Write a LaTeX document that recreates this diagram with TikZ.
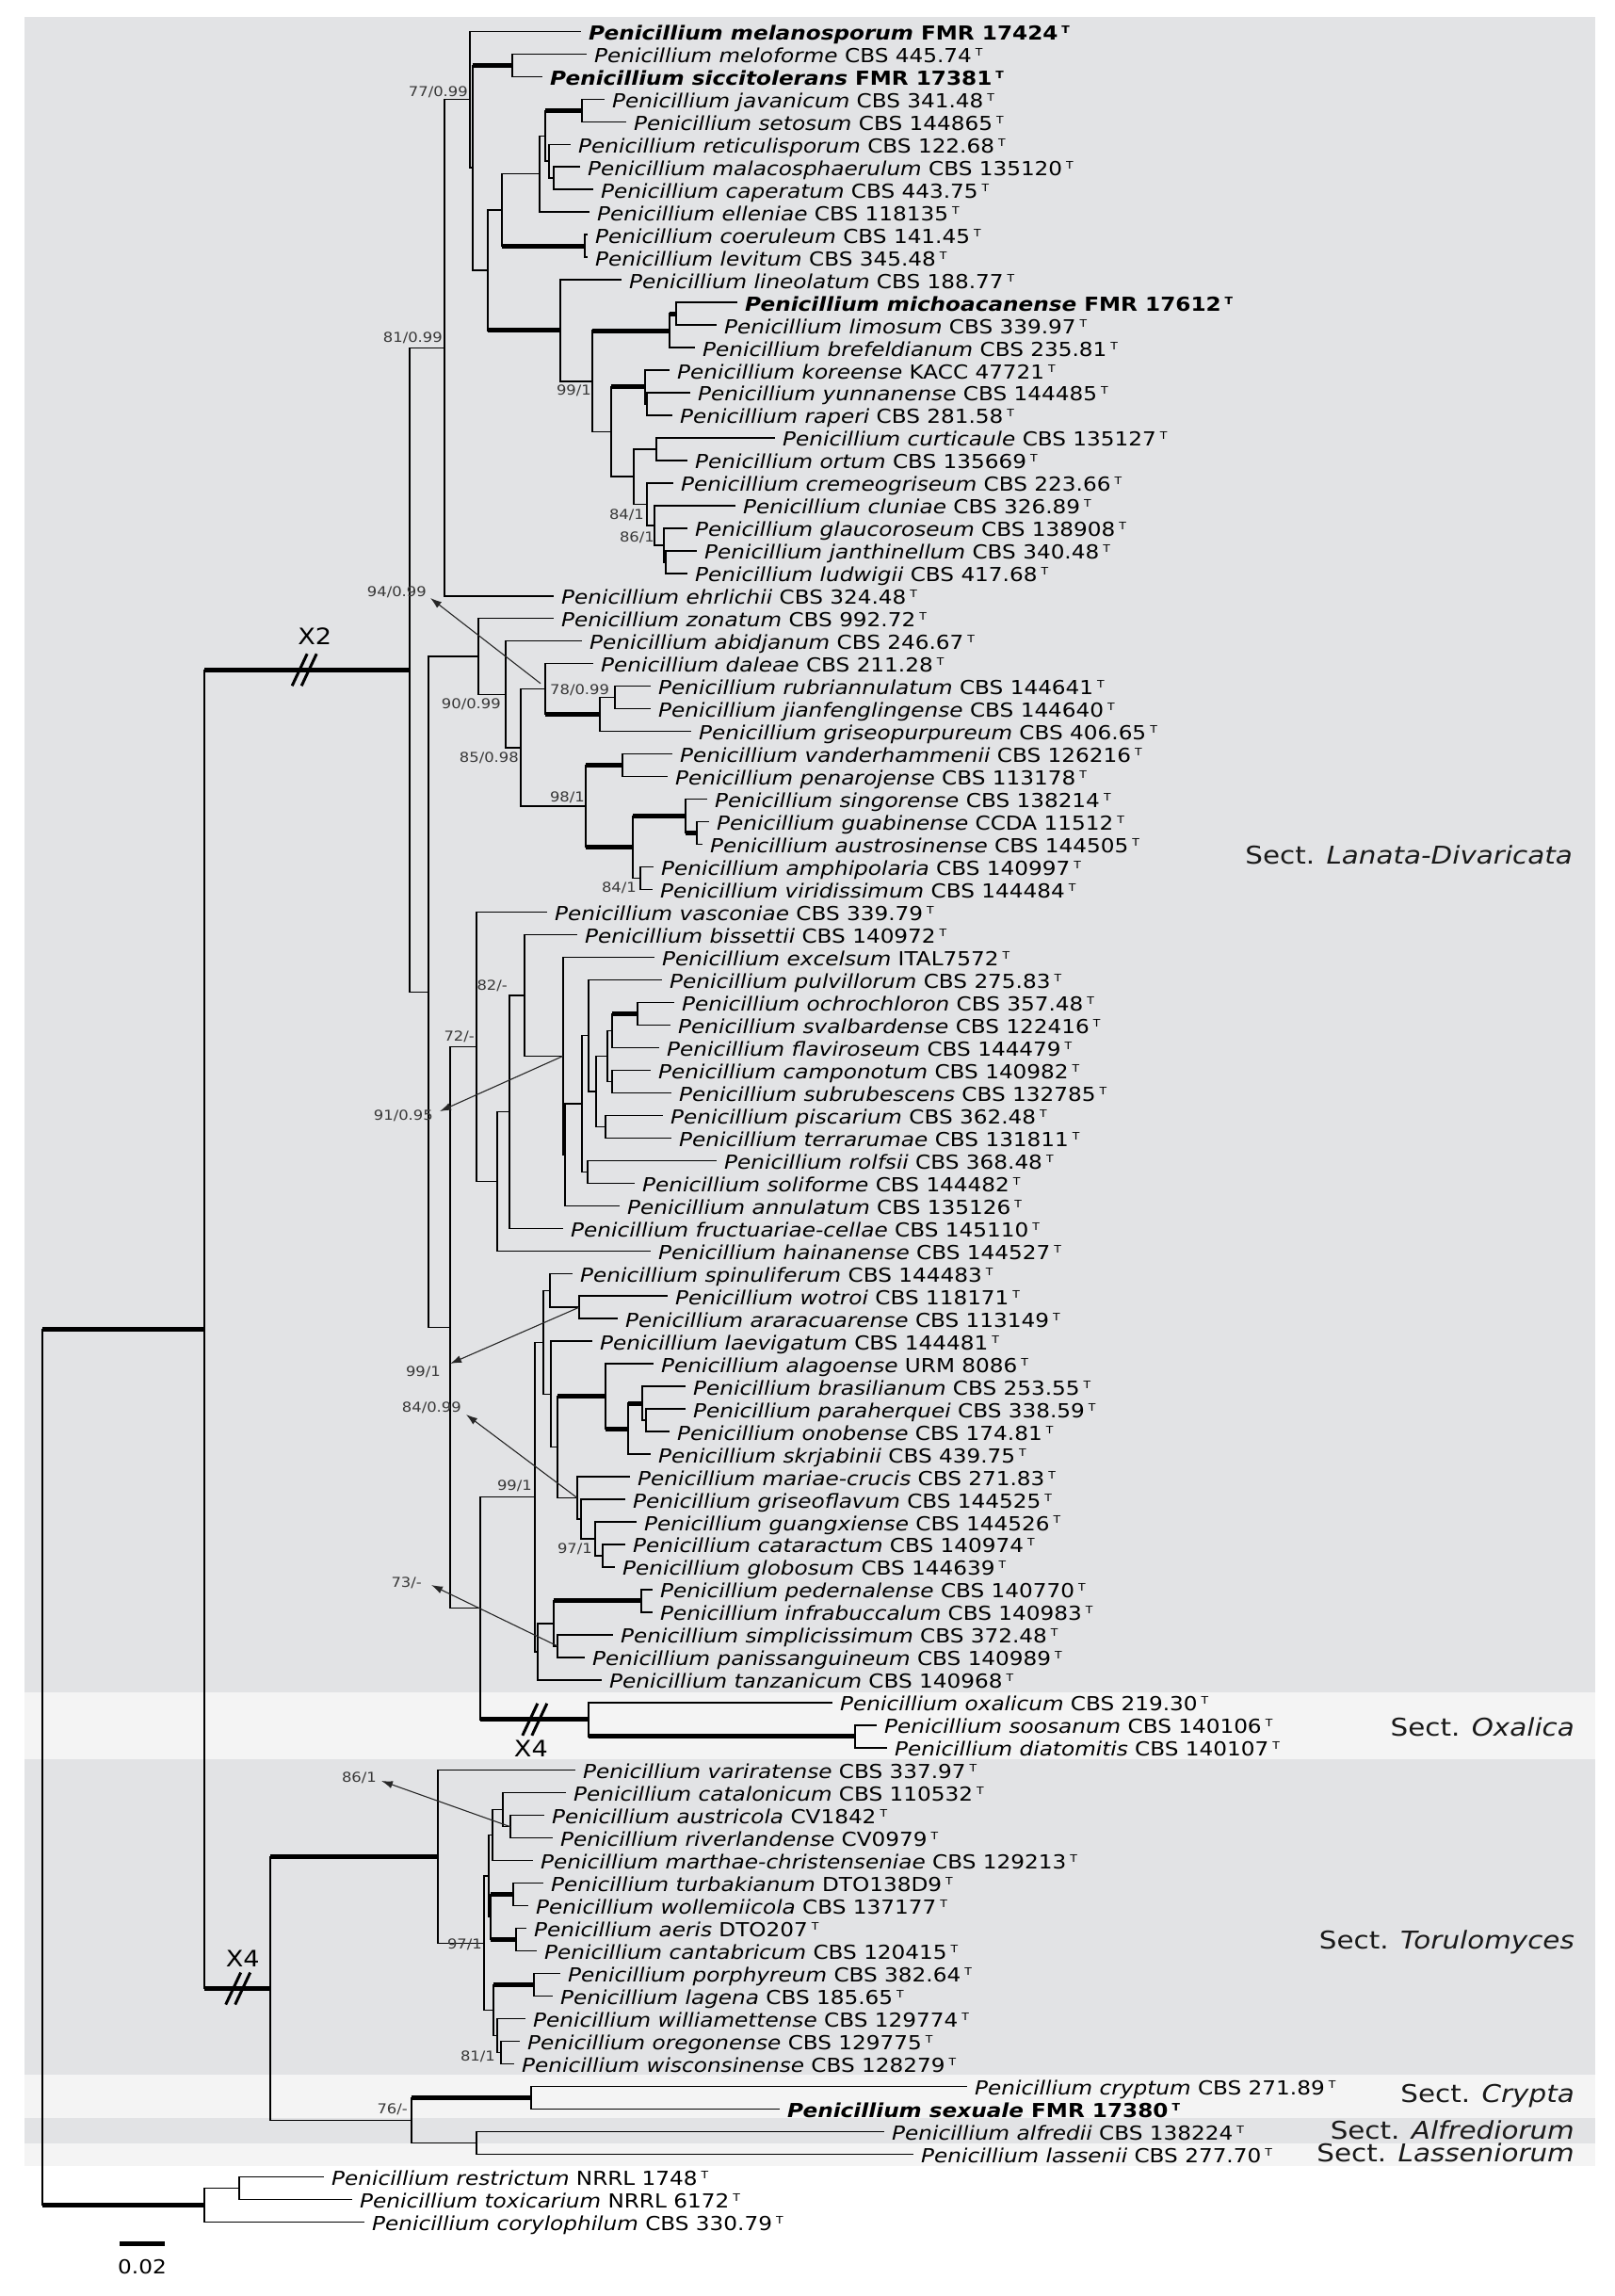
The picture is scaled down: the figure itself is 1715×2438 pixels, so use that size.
\documentclass[tikz,border=0pt]{standalone}
\usepackage{fontspec}
\setmainfont{DejaVu Sans}[FakeStretch=1.13]
\usetikzlibrary{calc,arrows.meta}
\definecolor{bandgray}{RGB}{226,227,229}
\definecolor{bandlight}{RGB}{244,244,244}
\newcommand{\tmark}{\hspace{4pt}\raisebox{7pt}{\fontsize{11}{11}\selectfont T}}
\newcommand{\tx}[2]{\textit{Penicillium #1} #2\tmark}
\newcommand{\tb}[2]{\textbf{\textit{Penicillium #1} #2\tmark}}
\newcommand{\leaf}[4]{%
  \coordinate (#1) at (#3, {-(33.3+23.98*(#2-1))});
  \node[tax] (t#1) at ([xshift=9pt,yshift=-9pt]#1) {#4};}
\newcommand{\tnode}[6]{%
  \path let \p1=(#3), \p2=(#5) in coordinate (#1) at ({#2pt}, {0.5*\y1+0.5*\y2});
  \draw[vl] (#1 |- #3) -- (#1 |- #5);
  \draw[#4] (#1 |- #3) -- (#3);
  \draw[#6] (#1 |- #5) -- (#5);}
\newcommand{\slashes}[1]{%
  \draw[sl] ([xshift=-13pt,yshift=-17pt]#1) -- ([xshift=3pt,yshift=17pt]#1);
  \draw[sl] ([xshift=-3pt,yshift=-17pt]#1) -- ([xshift=13pt,yshift=17pt]#1);}
\tikzset{
  tax/.style={anchor=base west,inner sep=0pt,font=\fontsize{20.5}{24}\selectfont,text=black},
  bl/.style={line width=1.4pt,line cap=rect},
  vl/.style={line width=1.4pt,line cap=rect},
  bb/.style={line width=5pt},
  boot/.style={inner sep=0pt,font=\fontsize{14.5}{15}\selectfont,text=black!78},
  arr/.style={line width=1.1pt,black!85,-{Latex[length=12pt,width=8pt]}},
  sect/.style={anchor=east,inner sep=0pt,font=\fontsize{26}{26}\selectfont,text=black!90},
  xl/.style={inner sep=0pt,font=\fontsize{24}{24}\selectfont},
  sl/.style={line width=3pt}
}
\begin{document}
\begin{tikzpicture}[x=1pt,y=1pt]
\useasboundingbox (0,0) rectangle (1715,-2438);
\fill[white] (0,0) rectangle (1715,-2438);
% section bands
\fill[bandgray]  (26,-18)   rectangle (1694,-1797);
\fill[bandlight] (26,-1797) rectangle (1694,-1868);
\fill[bandgray]  (26,-1868) rectangle (1694,-2203);
\fill[bandlight] (26,-2203) rectangle (1694,-2249);
\fill[bandgray]  (26,-2249) rectangle (1694,-2276);
\fill[bandlight] (26,-2276) rectangle (1694,-2300);
% leaves
\leaf{L1}{1}{616}{\tb{melanosporum}{FMR 17424}}
\leaf{L2}{2}{622}{\tx{meloforme}{CBS 445.74}}
\leaf{L3}{3}{575}{\tb{siccitolerans}{FMR 17381}}
\leaf{L4}{4}{641}{\tx{javanicum}{CBS 341.48}}
\leaf{L5}{5}{664}{\tx{setosum}{CBS 144865}}
\leaf{L6}{6}{605}{\tx{reticulisporum}{CBS 122.68}}
\leaf{L7}{7}{615}{\tx{malacosphaerulum}{CBS 135120}}
\leaf{L8}{8}{629}{\tx{caperatum}{CBS 443.75}}
\leaf{L9}{9}{625}{\tx{elleniae}{CBS 118135}}
\leaf{L10}{10}{623}{\tx{coeruleum}{CBS 141.45}}
\leaf{L11}{11}{623}{\tx{levitum}{CBS 345.48}}
\leaf{L12}{12}{659}{\tx{lineolatum}{CBS 188.77}}
\leaf{L13}{13}{782}{\tb{michoacanense}{FMR 17612}}
\leaf{L14}{14}{760}{\tx{limosum}{CBS 339.97}}
\leaf{L15}{15}{737}{\tx{brefeldianum}{CBS 235.81}}
\leaf{L16}{16}{710}{\tx{koreense}{KACC 47721}}
\leaf{L17}{17}{732}{\tx{yunnanense}{CBS 144485}}
\leaf{L18}{18}{713}{\tx{raperi}{CBS 281.58}}
\leaf{L19}{19}{822}{\tx{curticaule}{CBS 135127}}
\leaf{L20}{20}{729}{\tx{ortum}{CBS 135669}}
\leaf{L21}{21}{714}{\tx{cremeogriseum}{CBS 223.66}}
\leaf{L22}{22}{780}{\tx{cluniae}{CBS 326.89}}
\leaf{L23}{23}{729}{\tx{glaucoroseum}{CBS 138908}}
\leaf{L24}{24}{739}{\tx{janthinellum}{CBS 340.48}}
\leaf{L25}{25}{729}{\tx{ludwigii}{CBS 417.68}}
\leaf{L26}{26}{587}{\tx{ehrlichii}{CBS 324.48}}
\leaf{L27}{27}{587}{\tx{zonatum}{CBS 992.72}}
\leaf{L28}{28}{617}{\tx{abidjanum}{CBS 246.67}}
\leaf{L29}{29}{629}{\tx{daleae}{CBS 211.28}}
\leaf{L30}{30}{690}{\tx{rubriannulatum}{CBS 144641}}
\leaf{L31}{31}{690}{\tx{jianfenglingense}{CBS 144640}}
\leaf{L32}{32}{733}{\tx{griseopurpureum}{CBS 406.65}}
\leaf{L33}{33}{713}{\tx{vanderhammenii}{CBS 126216}}
\leaf{L34}{34}{708}{\tx{penarojense}{CBS 113178}}
\leaf{L35}{35}{750}{\tx{singorense}{CBS 138214}}
\leaf{L36}{36}{752}{\tx{guabinense}{CCDA 11512}}
\leaf{L37}{37}{745}{\tx{austrosinense}{CBS 144505}}
\leaf{L38}{38}{693}{\tx{amphipolaria}{CBS 140997}}
\leaf{L39}{39}{692}{\tx{viridissimum}{CBS 144484}}
\leaf{L40}{40}{580}{\tx{vasconiae}{CBS 339.79}}
\leaf{L41}{41}{612}{\tx{bissettii}{CBS 140972}}
\leaf{L42}{42}{694}{\tx{excelsum}{ITAL7572}}
\leaf{L43}{43}{702}{\tx{pulvillorum}{CBS 275.83}}
\leaf{L44}{44}{715}{\tx{ochrochloron}{CBS 357.48}}
\leaf{L45}{45}{711}{\tx{svalbardense}{CBS 122416}}
\leaf{L46}{46}{699}{\tx{flaviroseum}{CBS 144479}}
\leaf{L47}{47}{690}{\tx{camponotum}{CBS 140982}}
\leaf{L48}{48}{712}{\tx{subrubescens}{CBS 132785}}
\leaf{L49}{49}{703}{\tx{piscarium}{CBS 362.48}}
\leaf{L50}{50}{712}{\tx{terrarumae}{CBS 131811}}
\leaf{L51}{51}{760}{\tx{rolfsii}{CBS 368.48}}
\leaf{L52}{52}{673}{\tx{soliforme}{CBS 144482}}
\leaf{L53}{53}{657}{\tx{annulatum}{CBS 135126}}
\leaf{L54}{54}{597}{\tx{fructuariae-cellae}{CBS 145110}}
\leaf{L55}{55}{690}{\tx{hainanense}{CBS 144527}}
\leaf{L56}{56}{607}{\tx{spinuliferum}{CBS 144483}}
\leaf{L57}{57}{708}{\tx{wotroi}{CBS 118171}}
\leaf{L58}{58}{655}{\tx{araracuarense}{CBS 113149}}
\leaf{L59}{59}{628}{\tx{laevigatum}{CBS 144481}}
\leaf{L60}{60}{693}{\tx{alagoense}{URM 8086}}
\leaf{L61}{61}{727}{\tx{brasilianum}{CBS 253.55}}
\leaf{L62}{62}{727}{\tx{paraherquei}{CBS 338.59}}
\leaf{L63}{63}{710}{\tx{onobense}{CBS 174.81}}
\leaf{L64}{64}{690}{\tx{skrjabinii}{CBS 439.75}}
\leaf{L65}{65}{668}{\tx{mariae-crucis}{CBS 271.83}}
\leaf{L66}{66}{663}{\tx{griseoflavum}{CBS 144525}}
\leaf{L67}{67}{675}{\tx{guangxiense}{CBS 144526}}
\leaf{L68}{68}{663}{\tx{cataractum}{CBS 140974}}
\leaf{L69}{69}{652}{\tx{globosum}{CBS 144639}}
\leaf{L70}{70}{692}{\tx{pedernalense}{CBS 140770}}
\leaf{L71}{71}{692}{\tx{infrabuccalum}{CBS 140983}}
\leaf{L72}{72}{650}{\tx{simplicissimum}{CBS 372.48}}
\leaf{L73}{73}{620}{\tx{panissanguineum}{CBS 140989}}
\leaf{L74}{74}{638}{\tx{tanzanicum}{CBS 140968}}
\leaf{L75}{75}{883}{\tx{oxalicum}{CBS 219.30}}
\leaf{L76}{76}{930}{\tx{soosanum}{CBS 140106}}
\leaf{L77}{77}{941}{\tx{diatomitis}{CBS 140107}}
\leaf{L78}{78}{610}{\tx{variratense}{CBS 337.97}}
\leaf{L79}{79}{600}{\tx{catalonicum}{CBS 110532}}
\leaf{L80}{80}{577}{\tx{austricola}{CV1842}}
\leaf{L81}{81}{586}{\tx{riverlandense}{CV0979}}
\leaf{L82}{82}{565}{\tx{marthae-christenseniae}{CBS 129213}}
\leaf{L83}{83}{576}{\tx{turbakianum}{DTO138D9}}
\leaf{L84}{84}{560}{\tx{wollemiicola}{CBS 137177}}
\leaf{L85}{85}{558}{\tx{aeris}{DTO207}}
\leaf{L86}{86}{569}{\tx{cantabricum}{CBS 120415}}
\leaf{L87}{87}{594}{\tx{porphyreum}{CBS 382.64}}
\leaf{L88}{88}{586}{\tx{lagena}{CBS 185.65}}
\leaf{L89}{89}{557}{\tx{williamettense}{CBS 129774}}
\leaf{L90}{90}{551}{\tx{oregonense}{CBS 129775}}
\leaf{L91}{91}{545}{\tx{wisconsinense}{CBS 128279}}
\leaf{L92}{92}{1026}{\tx{cryptum}{CBS 271.89}}
\leaf{L93}{93}{827}{\tb{sexuale}{FMR 17380}}
\leaf{L94}{94}{938}{\tx{alfredii}{CBS 138224}}
\leaf{L95}{95}{969}{\tx{lassenii}{CBS 277.70}}
\leaf{L96}{96}{343}{\tx{restrictum}{NRRL 1748}}
\leaf{L97}{97}{373}{\tx{toxicarium}{NRRL 6172}}
\leaf{L98}{98}{386}{\tx{corylophilum}{CBS 330.79}}
% internal nodes: top clade
\tnode{MS}{544}{L2}{bl}{L3}{bl}
\tnode{JS}{618}{L4}{bl}{L5}{bl}
\tnode{N9}{588}{L7}{bl}{L8}{bl}
\tnode{N8}{583}{L6}{bl}{N9}{bl}
\tnode{N7}{579}{JS}{bb}{N8}{bl}
\tnode{N6}{573}{N7}{bl}{L9}{bl}
\tnode{CL}{621}{L10}{bl}{L11}{bl}
\tnode{N4}{533}{N6}{bl}{CL}{bb}
\tnode{N13}{718}{L13}{bl}{L14}{bl}
\tnode{N11}{711}{N13}{bb}{L15}{bl}
\tnode{YR}{687}{L17}{bl}{L18}{bl}
\tnode{KYR}{685}{L16}{bl}{YR}{bl}
\tnode{CO}{697}{L19}{bl}{L20}{bl}
\tnode{N18}{707}{L24}{bl}{L25}{bl}
\tnode{N17}{705}{L23}{bl}{N18}{bl}
\tnode{N16}{695}{L22}{bl}{N17}{bl}
\tnode{N15}{687}{L21}{bl}{N16}{bl}
\tnode{N14}{673}{CO}{bl}{N15}{bl}
\tnode{N12}{649}{KYR}{bb}{N14}{bl}
\tnode{N10}{629}{N11}{bb}{N12}{bl}
\tnode{N5}{595}{L12}{bl}{N10}{bl}
\tnode{N3}{518}{N4}{bl}{N5}{bb}
\tnode{N2}{502}{MS}{bb}{N3}{bl}
\tnode{N1}{499}{L1}{bl}{N2}{bl}
\tnode{T1}{472}{N1}{bl}{L26}{bl}
% middle
\tnode{T10}{653}{L30}{bl}{L31}{bl}
\tnode{T9}{637}{T10}{bl}{L32}{bl}
\tnode{T7}{579}{L29}{bl}{T9}{bb}
\tnode{VP}{661}{L33}{bl}{L34}{bl}
\tnode{GA}{740}{L36}{bl}{L37}{bl}
\tnode{SGA}{728}{L35}{bl}{GA}{bb}
\tnode{AV}{680}{L38}{bl}{L39}{bl}
\tnode{T11}{672}{SGA}{bb}{AV}{bl}
\tnode{T8}{622}{VP}{bb}{T11}{bb}
\tnode{T6}{553}{T7}{bl}{T8}{bl}
\tnode{T5}{537}{L28}{bl}{T6}{bl}
\tnode{T3}{508}{L27}{bl}{T5}{bl}
\tnode{OS}{677}{L44}{bl}{L45}{bl}
\tnode{T23}{650}{OS}{bb}{L46}{bl}
\tnode{T24}{650}{L47}{bl}{L48}{bl}
\tnode{T22}{645}{T23}{bl}{T24}{bl}
\tnode{PT}{643}{L49}{bl}{L50}{bl}
\tnode{T21}{633}{T22}{bl}{PT}{bl}
\tnode{T19}{625}{L43}{bl}{T21}{bl}
\tnode{T20}{624}{L51}{bl}{L52}{bl}
\tnode{T18}{618}{T19}{bl}{T20}{bl}
\tnode{T17b}{600}{T18}{bl}{L53}{bl}
\tnode{T17}{598}{L42}{bl}{T17b}{bl}
\tnode{T16}{557}{L41}{bl}{T17}{bl}
\tnode{T15}{541}{T16}{bl}{L54}{bl}
\tnode{T14}{528}{T15}{bl}{L55}{bl}
\tnode{T12}{506}{L40}{bl}{T14}{bl}
\tnode{WA}{615}{L57}{bl}{L58}{bl}
\tnode{T28}{584}{L56}{bl}{WA}{bl}
\tnode{T35}{686}{L62}{bl}{L63}{bl}
\tnode{T34}{682}{L61}{bl}{T35}{bl}
\tnode{T33}{667}{T34}{bb}{L64}{bl}
\tnode{T31}{643}{L60}{bl}{T33}{bb}
\tnode{CG}{640}{L68}{bl}{L69}{bl}
\tnode{T36}{632}{L67}{bl}{CG}{bl}
\tnode{T37}{617}{L66}{bl}{T36}{bl}
\tnode{T32}{613}{L65}{bl}{T37}{bl}
\tnode{T30}{592}{T31}{bb}{T32}{bl}
\tnode{T29}{585}{L59}{bl}{T30}{bl}
\tnode{T26}{577}{T28}{bl}{T29}{bl}
\tnode{PI}{681}{L70}{bl}{L71}{bl}
\tnode{SP}{592}{L72}{bl}{L73}{bl}
\tnode{T38}{588}{PI}{bb}{SP}{bl}
\tnode{T27}{571}{T38}{bl}{L74}{bl}
\tnode{T25}{568}{T26}{bl}{T27}{bl}
\tnode{SD}{908}{L76}{bl}{L77}{bl}
\tnode{OX}{625}{L75}{bl}{SD}{bb}
\tnode{T13}{510}{T25}{bl}{OX}{bb}
\tnode{T4}{478}{T12}{bl}{T13}{bl}
\tnode{T2}{455}{T3}{bl}{T4}{bl}
\tnode{T0}{435}{T1}{bl}{T2}{bl}
% bottom
\tnode{AR}{542}{L80}{bl}{L81}{bl}
\tnode{CAR}{534}{L79}{bl}{AR}{bl}
\tnode{U1}{523}{CAR}{bl}{L82}{bl}
\tnode{TW}{545}{L83}{bl}{L84}{bl}
\tnode{AC}{548}{L85}{bl}{L86}{bl}
\tnode{U2}{521}{TW}{bb}{AC}{bb}
\tnode{TOR3}{519}{U1}{bl}{U2}{bl}
\tnode{PL}{567}{L87}{bl}{L88}{bl}
\tnode{OW}{532}{L90}{bl}{L91}{bl}
\tnode{WOW}{528}{L89}{bl}{OW}{bl}
\tnode{TOR4}{524}{PL}{bb}{WOW}{bl}
\tnode{TOR2}{514}{TOR3}{bl}{TOR4}{bl}
\tnode{TOR}{465}{L78}{bl}{TOR2}{bl}
\tnode{CS}{564}{L92}{bl}{L93}{bl}
\tnode{AL}{506}{L94}{bl}{L95}{bl}
\tnode{B2}{437}{CS}{bb}{AL}{bl}
\tnode{B1}{287}{TOR}{bb}{B2}{bl}
\tnode{RT}{254}{L96}{bl}{L97}{bl}
\tnode{OG}{217}{RT}{bl}{L98}{bl}
\tnode{I}{217}{T0}{bb}{B1}{bb}
\tnode{R}{45}{I}{bb}{OG}{bb}
% break marks and multipliers
\coordinate (m1) at ($(I |- T0)!0.487!(T0)$);
\coordinate (m2) at ($(T13 |- OX)!0.503!(OX)$);
\coordinate (m3) at ($(I |- B1)!0.51!(B1)$);
\slashes{m1}
\slashes{m2}
\slashes{m3}
\node[xl] (x2) at ([xshift=11pt,yshift=36pt]m1) {X2};
\node[xl] (x4a) at ([xshift=-4pt,yshift=-31pt]m2) {X4};
\node[xl] (x4b) at ([xshift=5pt,yshift=32pt]m3) {X4};
% support values
\node[boot,anchor=south east] (b1) at (497,-104) {77/0.99};
\node[boot,anchor=south east] (b2) at (470,-365) {81/0.99};
\node[boot,anchor=north east] (b3) at (628,-409) {99/1};
\node[boot,anchor=east] (b4) at (684,-547) {84/1};
\node[boot,anchor=east] (b5) at (695,-571) {86/1};
\node[boot,anchor=east] (b6) at (453,-629) {94/0.99};
\node[boot,anchor=west] (b7) at (584,-733) {78/0.99};
\node[boot,anchor=north east] (b8) at (532,-742) {90/0.99};
\node[boot,anchor=north east] (b9) at (551,-799) {85/0.98};
\node[boot,anchor=south east] (b10) at (621,-853) {98/1};
\node[boot,anchor=north east] (b11) at (676,-937) {84/1};
\node[boot,anchor=south east] (b12) at (504,-1107) {72/-};
\node[boot,anchor=south east] (b13) at (539,-1053) {82/-};
\node[boot,anchor=east] (b14) at (460,-1185) {91/0.95};
\node[boot,anchor=east] (b15) at (468,-1457) {99/1};
\node[boot,anchor=east] (b16) at (490,-1495) {84/0.99};
\node[boot,anchor=south east] (b17) at (565,-1584) {99/1};
\node[boot,anchor=east] (b18) at (629,-1645) {97/1};
\node[boot,anchor=east] (b19) at (448,-1681) {73/-};
\node[boot,anchor=east] (b20) at (400,-1888) {86/1};
\node[boot,anchor=south east] (b21) at (512,-2071) {97/1};
\node[boot,anchor=east] (b22) at (526,-2184) {81/1};
\node[boot,anchor=south east] (b23) at (433,-2246) {76/-};
% arrows to support values
\draw[arr] ([xshift=-5pt,yshift=6pt]T7) -- ([xshift=4pt,yshift=-6pt]b6.east);
\draw[arr] (T17) -- ([xshift=7pt,yshift=5pt]b14.east);
\draw[arr] (WA) -- ([xshift=10pt,yshift=9pt]b15.east);
\draw[arr] (T32) -- ([xshift=5pt,yshift=-7pt]b16.east);
\draw[arr] (SP) -- ([xshift=10pt,yshift=-2pt]b19.east);
\draw[arr] (AR) -- ([xshift=5pt,yshift=-3pt]b20.east);
% section labels
\node[sect] (s1) at (1670,-908) {Sect. \textit{Lanata-Divaricata}};
\node[sect] (s2) at (1672,-1834) {Sect. \textit{Oxalica}};
\node[sect] (s3) at (1672,-2062) {Sect. \textit{Torulomyces}};
\node[sect] (s4) at (1672,-2226) {Sect. \textit{Crypta}};
\node[sect] (s5) at (1672,-2262) {Sect. \textit{Alfrediorum}};
\node[sect] (s6) at (1672,-2286) {Sect. \textit{Lasseniorum}};
% scale bar
\coordinate (sbA) at (127,-2382);
\coordinate (sbB) at (175,-2382);
\draw[bb] (sbA) -- (sbB);
\node[inner sep=0pt,font=\fontsize{20.5}{24}\selectfont] (sbl) at ([yshift=-25pt]$(sbA)!0.5!(sbB)$) {0.02};
\end{tikzpicture}
\end{document}
